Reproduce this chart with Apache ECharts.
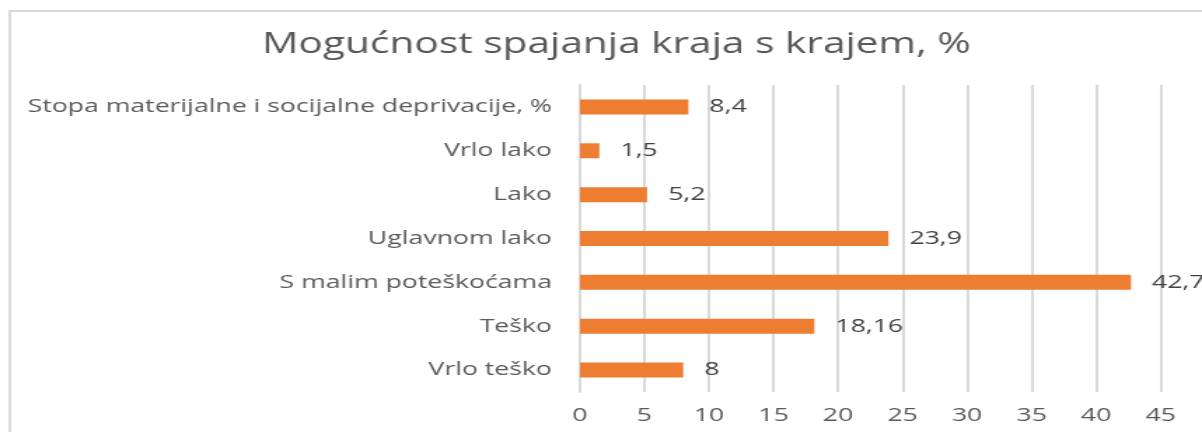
<!DOCTYPE html>
<html>
<head>
<meta charset="utf-8">
<script src="https://cdn.jsdelivr.net/npm/echarts@6/dist/echarts.min.js"></script>
<style>
    html, body { margin: 0; padding: 0; background: #fff; overflow: hidden; }
    /* the reference is a horizontally stretched Excel chart, so draw it narrow and stretch it */
    #mainBarChartCont { width: 858px; height: 432px; transform: scaleX(1.40093); transform-origin: 0 0; }
</style>
</head>
<body>
<div id="mainBarChartCont"></div>
<script>
const categories = ['Stopa materijalne i socijalne deprivacije, %', 'Vrlo lako', 'Lako', 'Uglavnom lako', 'S malim poteškoćama', 'Teško', 'Vrlo teško'];
const values = [8.4, 1.5, 5.2, 23.9, 42.7, 18.16, 8];
const xTicks = [0, 5, 10, 15, 20, 25, 30, 35, 40, 45];

const fontName = 'Open Sans';
let myChart = echarts.init(document.getElementById('mainBarChartCont'));
const option = {
    animation: false,
    title: {
        text: 'Mogućnost spajanja kraja s krajem, %',
        left: 435,
        top: 25,
        textAlign: 'center',
        textStyle: { fontFamily: fontName, fontSize: 29, fontWeight: 'normal', color: '#595959' }
    },
    // frame border (only left + top edges are in view)
    graphic: [
        { type: 'line', shape: { x1: 7, y1: 11, x2: 900, y2: 11 }, style: { stroke: '#d9d9d9', lineWidth: 2 } },
        { type: 'line', shape: { x1: 7, y1: 10, x2: 7, y2: 432 }, style: { stroke: '#d9d9d9', lineWidth: 2 } }
    ],
    grid: { left: 414, right: 29.5, top: 85, bottom: 40 },
    xAxis: {
        type: 'value',
        min: 0,
        max: 45,
        interval: 5,
        axisLine: { show: false },
        axisTick: { show: false },
        splitLine: { lineStyle: { color: '#d9d9d9', width: 2 } },
        axisLabel: {
            margin: 14,
            fontFamily: fontName, fontSize: 19, color: '#595959',
            formatter: v => xTicks.includes(v) ? String(v) : ''
        }
    },
    yAxis: {
        type: 'category',
        inverse: true,
        data: categories,
        axisLine: { lineStyle: { color: '#d9d9d9', width: 2 } },
        axisTick: { show: false },
        axisLabel: { margin: 20, fontFamily: fontName, fontSize: 19, color: '#595959' }
    },
    series: [
        {
            type: 'bar',
            data: values,
            barWidth: 15,
            itemStyle: { color: '#ED7D31' },
            label: {
                show: true,
                position: 'right',
                distance: 15,
                fontFamily: fontName, fontSize: 19, color: '#404040',
                formatter: p => String(p.value).replace('.', ',')
            }
        }
    ]
};
myChart.setOption(option);
</script>
</body>
</html>
